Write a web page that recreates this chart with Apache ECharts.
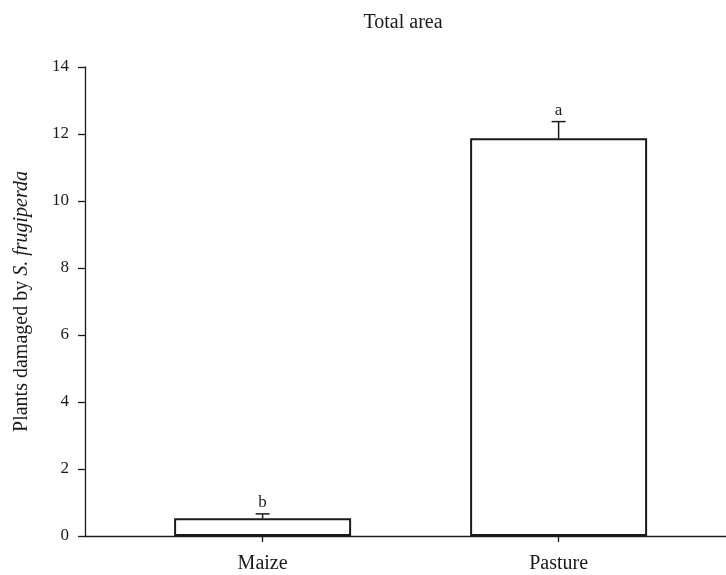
<!DOCTYPE html>
<html>
<head>
<meta charset="utf-8">
<script src="https://cdn.jsdelivr.net/npm/echarts@6/dist/echarts.min.js"></script>
<style>html,body{margin:0;padding:0;background:#fff}#c{width:726px;height:575px}</style>
</head>
<body>
<div id="c"></div>
<script>
var categories = ['Maize', 'Pasture'];
var means = [0.53, 11.87];
var errors = [0.13, 0.5];
var letters = ['b', 'a'];
var yTicks = [0, 2, 4, 6, 8, 10, 12, 14];

var FONT = '"Liberation Serif", "Times New Roman", serif';
var INK = '#1a1a1a';

var barData = categories.map(function (c, i) { return [i, means[i]]; });
var errData = categories.map(function (c, i) { return [i, means[i], means[i] + errors[i], letters[i]]; });

var chart = echarts.init(document.getElementById('c'));
chart.setOption({
  animation: false,
  backgroundColor: '#fff',
  title: {
    text: 'Total area',
    left: 398, top: 8, textAlign: 'center',
    textStyle: { fontFamily: FONT, fontSize: 20, fontWeight: 'normal', color: INK }
  },
  grid: { left: 85, right: 0, top: 67, bottom: 39, containLabel: false, outerBoundsMode: 'none' },
  xAxis: {
    type: 'value', min: -0.6, max: 1.5655,
    splitLine: { show: false },
    axisLine: { show: true, onZero: false, lineStyle: { color: INK, width: 1.3 } },
    axisTick: { show: true, length: 6, customValues: [0, 1], lineStyle: { color: INK, width: 1.3 } },
    axisLabel: {
      customValues: [0, 1], margin: 18,
      formatter: function (v) { return categories[Math.round(v)] || ''; },
      fontFamily: FONT, fontSize: 20, color: INK
    }
  },
  yAxis: {
    type: 'value', min: 0, max: 14, interval: 2,
    splitLine: { show: false },
    axisLine: { show: true, onZero: false, lineStyle: { color: INK, width: 1.3 } },
    axisTick: { show: true, length: 7, inside: false, lineStyle: { color: INK, width: 1.3 } },
    axisLabel: { margin: 16, fontFamily: FONT, fontSize: 17, color: INK,
      formatter: function (v) { return yTicks.indexOf(v) >= 0 ? String(v) : ''; } },
    name: '{n|Plants damaged by }{i|S. frugiperda}',
    nameLocation: 'middle', nameGap: 53, nameRotate: 90,
    nameTextStyle: {
      rich: {
        n: { fontFamily: FONT, fontSize: 20, color: INK },
        i: { fontFamily: FONT, fontSize: 20, fontStyle: 'italic', color: INK }
      }
    }
  },
  series: [
    {
      type: 'bar', data: barData, barWidth: 177,
      itemStyle: { color: '#fff', borderColor: INK, borderWidth: 2 }
    },
    {
      type: 'custom', data: errData, z: 5,
      renderItem: function (params, api) {
        var x = api.value(0);
        var base = api.coord([x, api.value(1)]);
        var top = api.coord([x, api.value(2)]);
        var cap = 7;
        return {
          type: 'group',
          children: [
            { type: 'line', shape: { x1: base[0], y1: base[1], x2: top[0], y2: top[1] },
              style: { stroke: INK, lineWidth: 1.5 } },
            { type: 'line', shape: { x1: top[0] - cap, y1: top[1], x2: top[0] + cap, y2: top[1] },
              style: { stroke: INK, lineWidth: 1.5 } },
            { type: 'text', x: top[0], y: top[1] - 3,
              style: { text: api.value(3), fontFamily: FONT, fontSize: 17, fill: INK,
                align: 'center', verticalAlign: 'bottom' } }
          ]
        };
      }
    }
  ]
});
</script>
</body>
</html>
